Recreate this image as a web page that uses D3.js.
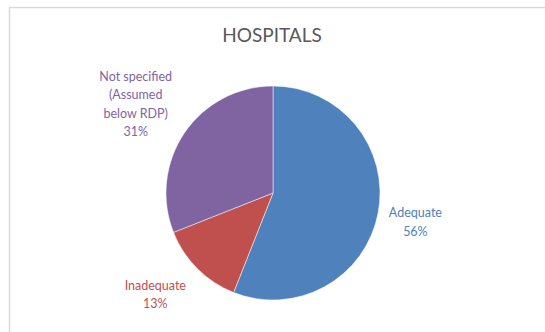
<!DOCTYPE html>
<html><head><meta charset="utf-8">
<script src="https://cdn.jsdelivr.net/npm/d3@7"></script>
<style>body{margin:0;background:#fff;}svg{display:block;}</style>
</head><body>
<svg id="chart" width="545" height="332"></svg>
<script>
const categories = ["Adequate", "Inadequate", "Not specified (Assumed below RDP)"];
const values = [56, 13, 31];
const colors = ["#4F81BD", "#C0504D", "#8064A2"];
const labelLines = [["Adequate", "56%"], ["Inadequate", "13%"], ["Not specified", "(Assumed", "below RDP)", "31%"]];
const title = "HOSPITALS";

const svg = d3.select("#chart");
const font = "Lato, 'Open Sans', sans-serif";
svg.append("rect").attr("x", 9.5).attr("y", 7.5).attr("width", 560).attr("height", 340)
  .attr("fill", "#fff").attr("stroke", "#d9d9d9").attr("stroke-width", 1.5);

svg.append("text").attr("x", 272).attr("y", 42).attr("text-anchor", "middle")
  .attr("font-family", font).attr("font-size", 19).attr("fill", "#595959").text(title);

const cx = 273, cy = 193, r = 107;
const pie = d3.pie().sort(null).value(d => d)(values);
const arc = d3.arc().innerRadius(0).outerRadius(r);
const g = svg.append("g").attr("transform", `translate(${cx},${cy})`);
g.selectAll("path").data(pie).join("path")
  .attr("d", arc).attr("fill", (d, i) => colors[i])
  .attr("stroke", "#fff").attr("stroke-width", 0.5);

const labelArc = d3.arc().innerRadius(r * 1.45).outerRadius(r * 1.45);
const offsets = [[-10, 0], [-8, -8], [-9, -2]];
pie.forEach((d, i) => {
  const c = labelArc.centroid(d);
  const lines = labelLines[i];
  const t = g.append("text").attr("text-anchor", "middle")
    .attr("font-family", font).attr("font-size", 12.5).attr("fill", colors[i]);
  const lh = 18.5;
  const y0 = c[1] + offsets[i][1] - (lines.length - 1) * lh / 2;
  lines.forEach((ln, k) => {
    t.append("tspan").attr("x", c[0] + offsets[i][0]).attr("y", y0 + k * lh + 4.5).text(ln);
  });
});
</script>
</body></html>
